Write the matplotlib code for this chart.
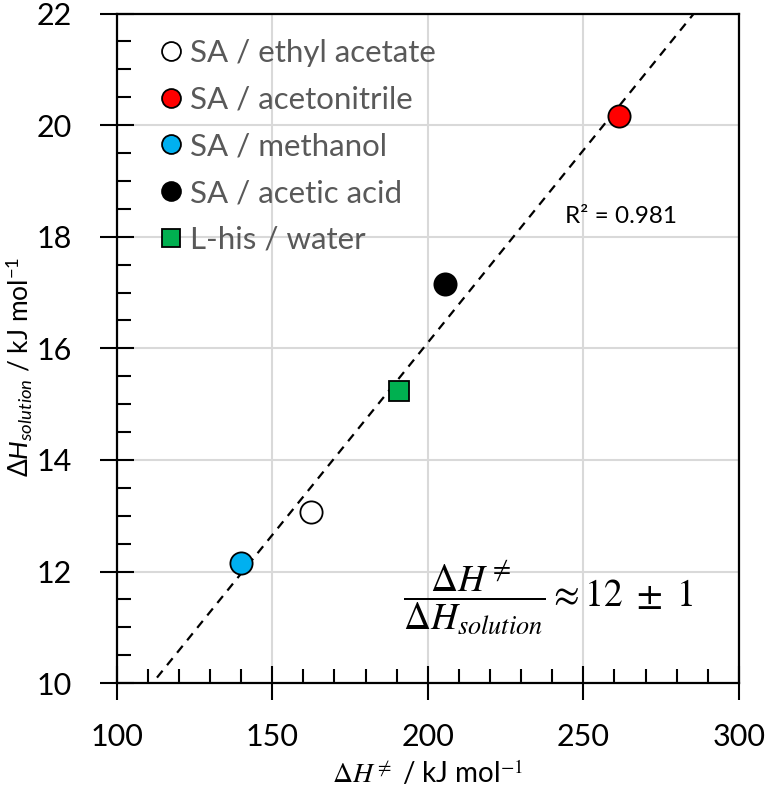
import numpy as np
import matplotlib.pyplot as plt

# -- data
labels = ["SA / ethyl acetate", "SA / acetonitrile", "SA / methanol",
          "SA / acetic acid", "L-his / water"]
dh_act = [162.5, 261.5, 140.0, 205.4, 190.7]   # kJ/mol
dh_sol = [13.06, 20.16, 12.16, 17.15, 15.23]   # kJ/mol
faces = ["white", "#ff0000", "#00b0f0", "black", "#00b050"]
marks = ["o", "o", "o", "o", "s"]
r2_text = "R\u00b2 = 0.981"

plt.rcParams["font.family"] = ["Lato", "DejaVu Sans"]
plt.rcParams["mathtext.fontset"] = "custom"
plt.rcParams["mathtext.rm"] = "Lato"
plt.rcParams["mathtext.it"] = "Lato:italic"

fig, ax = plt.subplots(figsize=(7.68, 7.99), dpi=100)
fig.subplots_adjust(left=0.152, right=0.962, top=0.983, bottom=0.145)

# -- linear trend through the points
p = np.polyfit(dh_act, dh_sol, 1)
xx = np.array([100, 300])
ax.plot(xx, np.polyval(p, xx), ls=(0, (4, 3.2)), color="black", lw=1.6, zorder=2)

for x, y, f, m, l in zip(dh_act, dh_sol, faces, marks, labels):
    ax.plot(x, y, m, ms=16 if m == "o" else 15, mfc=f, mec="black", mew=1.3,
            label=l, zorder=3, ls="none")

ax.set_xlim(100, 300)
ax.set_ylim(10, 22)
ax.set_xticks(np.arange(100, 301, 50))
ax.set_yticks(np.arange(10, 23, 2))
ax.set_xticks(np.arange(100, 301, 10), minor=True)
ax.set_yticks(np.arange(10, 22.1, 0.5), minor=True)
ax.grid(True, which="major", color="#d9d9d9", lw=1.5)
ax.set_axisbelow(True)
ax.tick_params(which="major", direction="inout", length=24, width=1.5,
               labelsize=22)
ax.tick_params(axis="x", which="major", pad=17)
ax.tick_params(axis="y", which="major", pad=20)
ax.tick_params(which="minor", direction="in", length=10, width=1.5)
for s in ax.spines.values():
    s.set_linewidth(1.6)

ax.set_xlabel(r"$\Delta H^{\neq}$ / kJ mol$^{-1}$", fontsize=20, labelpad=5)
ax.xaxis.label.set_math_fontfamily("stix")
ax.set_ylabel(r"$\Delta H_{solution}$ / kJ mol$^{-1}$", fontsize=19)
ax.yaxis.set_label_coords(-0.133, 0.472)

leg = ax.legend(loc="upper left", bbox_to_anchor=(0.025, 0.995), frameon=False,
                fontsize=22.5, labelcolor="#595959", handletextpad=0.05,
                labelspacing=0.6, markerscale=0.85, handlelength=1.1,
                borderaxespad=0.3)

ax.text(244, 18.36, r2_text, fontsize=17.5, va="center", ha="left")
ax.text(192, 11.53, r"$\dfrac{\Delta H^{\neq}}{\Delta H_{solution}} \approx 12\ \pm\ 1$",
        fontsize=27, va="center", ha="left", math_fontfamily="stix")

fig.savefig("out.png", dpi=100)
